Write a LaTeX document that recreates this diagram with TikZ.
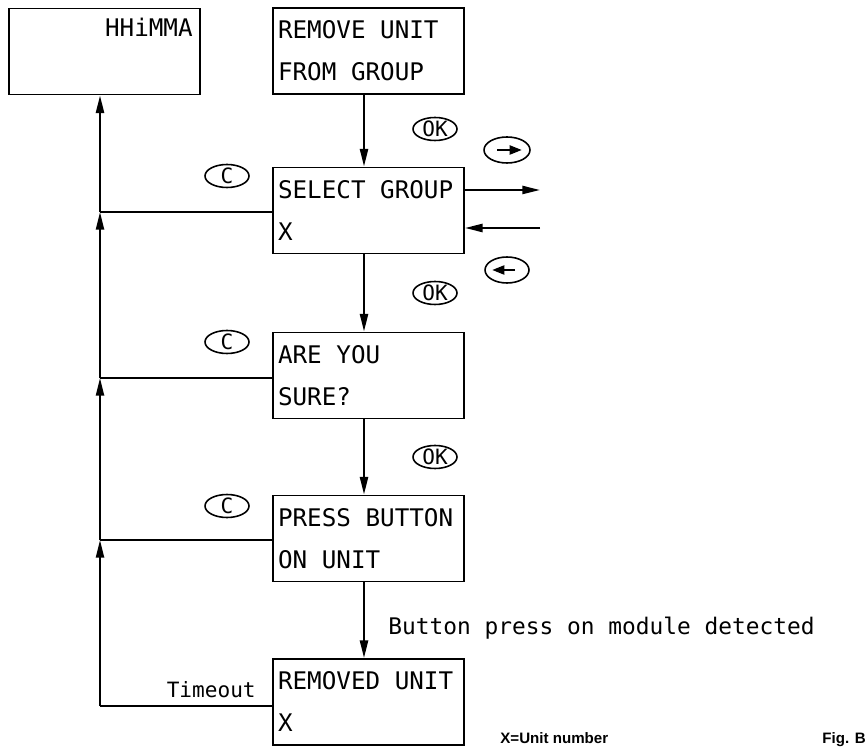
\documentclass[tikz,border=0pt]{standalone}
\usepackage{fontspec}
\setmainfont{DejaVu Sans Mono}
\newfontfamily\notefont{Liberation Sans}
\usetikzlibrary{arrows.meta,shapes.geometric}
\tikzset{
  screen/.style={draw, rectangle, line width=1.1pt, minimum width=3.82cm, minimum height=1.72cm,
    text width=3.62cm, inner xsep=0.1cm, align=flush left, text height=10pt, text depth=23.9pt,
    font=\fontsize{13.8}{23.9}\selectfont},
  link/.style={line width=1.1pt},
  flow/.style={line width=1.1pt, -{Triangle[length=10pt,width=4.6pt]}},
  keycap/.style={draw, ellipse, line width=0.9pt, inner sep=0pt, minimum width=0.88cm,
    minimum height=0.46cm, font=\fontsize{12}{12}\selectfont},
  keyarrow/.style={line width=1.5pt, -{Triangle[length=7pt,width=5pt]}},
  caption/.style={inner sep=0pt, font=\fontsize{13}{13}\selectfont},
  note/.style={inner sep=0pt, font=\notefont\bfseries\fontsize{8.6}{8.6}\selectfont}
}

\begin{document}
\begin{tikzpicture}[x=0.02cm, y=-0.02cm]
  \useasboundingbox (0,0) rectangle (865,749);
  % screens
  \node[screen] (menu) at (104.5,51.5) {};
  \node[inner sep=0pt, anchor=base east, font=\fontsize{13.8}{13.8}\selectfont] (menulabel) at (193,37) {HHiMMA};
  \node[screen] (remove) at (368.5,51) {REMOVE UNIT\\FROM GROUP};
  \node[screen] (select) at (368.5,210.5) {SELECT GROUP\\X};
  \node[screen] (sure) at (368.5,375.5) {ARE YOU\\SURE?};
  \node[screen] (press) at (368.5,538.5) {PRESS BUTTON\\ON UNIT};
  \node[screen] (removed) at (368.5,702) {REMOVED UNIT\\X};

  % keys
  \node[keycap] (ok1) at (435,129) {OK};
  \node[keycap] (ok2) at (435,293) {OK};
  \node[keycap] (ok3) at (435,457) {OK};
  \node[keycap] (c1) at (227,176) {C};
  \node[keycap] (c2) at (227,342) {C};
  \node[keycap] (c3) at (227,506) {C};
  \node[keycap, minimum width=0.92cm, minimum height=0.52cm] (nextkey) at (507,150) {};
  \node[keycap, minimum width=0.88cm, minimum height=0.52cm] (prevkey) at (507,270) {};
  \draw[keyarrow] ([xshift=-0.2cm]nextkey.center) -- ([xshift=0.3cm]nextkey.center);
  \draw[keyarrow] ([xshift=0.16cm]prevkey.center) -- ([xshift=-0.3cm]prevkey.center);

  % main flow
  \coordinate (mid) at (364,0);
  \draw[flow] (remove.south -| mid) -- (select.north -| mid);
  \draw[flow] (select.south -| mid) -- (sure.north -| mid);
  \draw[flow] (sure.south -| mid) -- (press.north -| mid);
  \draw[flow] (press.south -| mid) -- (removed.north -| mid);

  % scrolling
  \coordinate (fwd) at (540,190);
  \coordinate (back) at (540,228);
  \draw[flow] (fwd -| select.east) -- (fwd);
  \draw[flow] (back) -- (back -| select.east);

  % back to menu
  \coordinate (j1) at (100,212);
  \coordinate (j2) at (100,378);
  \coordinate (j3) at (100,540);
  \coordinate (j4) at (100,706);
  \draw[link] (j4 -| removed.west) -- (j4);
  \draw[flow] (j4) -- (j3);
  \draw[link] (j3 -| press.west) -- (j3);
  \draw[flow] (j3) -- (j2);
  \draw[link] (j2 -| sure.west) -- (j2);
  \draw[flow] (j2) -- (j1);
  \draw[link] (j1 -| select.west) -- (j1);
  \draw[flow] (j1) -- (j1 |- menu.south);

  % labels
  \node[caption, anchor=base west] (detect) at (388,634) {Button press on module detected};
  \node[caption, anchor=base east, font=\fontsize{12}{12}\selectfont] (timeout) at (256,697) {Timeout};
  \node[note, anchor=base west] (legend) at (500,743) {X=Unit number};
  \node[note, anchor=base west] (figlabel) at (822,743) {Fig. B};
\end{tikzpicture}
\end{document}
